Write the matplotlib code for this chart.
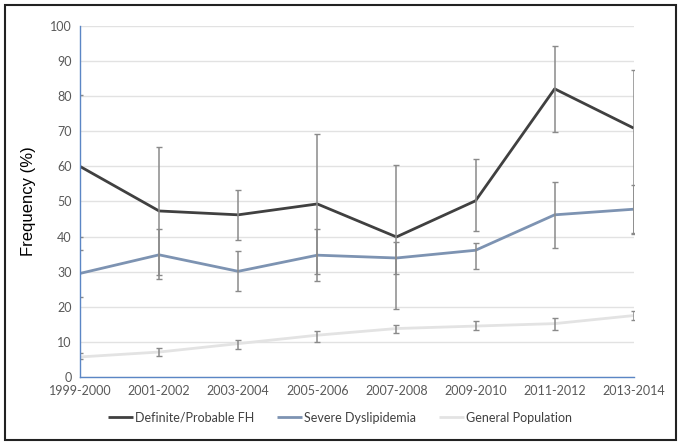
import matplotlib.pyplot as plt
from matplotlib.patches import Rectangle
import numpy as np

periods = ['1999-2000', '2001-2002', '2003-2004', '2005-2006',
           '2007-2008', '2009-2010', '2011-2012', '2013-2014']

fh = [60.0, 47.3, 46.2, 49.3, 39.9, 50.2, 82.1, 70.9]
fh_lo = [40.0, 29.0, 39.1, 29.4, 19.5, 41.5, 69.7, 40.8]
fh_hi = [80.3, 65.6, 53.3, 69.1, 60.3, 62.1, 94.4, 87.5]

sd = [29.5, 34.8, 30.1, 34.7, 33.9, 36.1, 46.2, 47.8]
sd_lo = [22.9, 27.8, 24.5, 27.3, 29.2, 30.9, 36.8, 41.0]
sd_hi = [36.2, 42.3, 35.9, 42.3, 38.5, 38.3, 55.6, 54.7]

gp = [5.7, 7.1, 9.5, 11.9, 13.8, 14.5, 15.2, 17.5]
gp_lo = [5.0, 5.9, 8.1, 10.1, 12.6, 13.5, 13.5, 16.3]
gp_hi = [6.7, 8.3, 10.4, 13.2, 14.9, 15.9, 16.9, 18.8]

series = [
    ('Definite/Probable FH', fh, fh_lo, fh_hi, '#404040'),
    ('Severe Dyslipidemia', sd, sd_lo, sd_hi, '#7d93b2'),
    ('General Population', gp, gp_lo, gp_hi, '#e3e3e3'),
]

fig = plt.figure(figsize=(6.8, 4.44), dpi=100)
ax = fig.add_axes([0.1176, 0.151, 0.8144, 0.7904])

x = np.arange(len(periods))
handles = []
for name, vals, lo, hi, col in series:
    vals = np.array(vals)
    err = [vals - np.array(lo), np.array(hi) - vals]
    h, = ax.plot(x, vals, color=col, lw=2.0, label=name, zorder=3,
                 solid_capstyle='butt')
    ax.errorbar(x, vals, yerr=err, fmt='none', ecolor='#8a8a8a',
                elinewidth=1.1, capsize=2, capthick=1.0, zorder=4)
    handles.append(h)

ax.set_xlim(0, len(periods) - 1)
ax.set_ylim(0, 100)
ax.set_yticks(range(0, 101, 10))
ax.set_xticks(x)
ax.set_xticklabels(periods)
ax.grid(axis='y', color='#e2e2e2', lw=1.0)
ax.set_axisbelow(True)
ax.tick_params(length=0, labelsize=9, labelcolor='#595959', pad=6)
for lab in ax.get_xticklabels() + ax.get_yticklabels():
    lab.set_family('Lato')
for s in ['top', 'right']:
    ax.spines[s].set_visible(False)
for s in ['left', 'bottom']:
    ax.spines[s].set_color('#5b86c5')
    ax.spines[s].set_linewidth(1.0)
    ax.spines[s].set_zorder(5)

ax.set_ylabel('Frequency (%)', fontsize=12, family='Liberation Sans', labelpad=10)

fig.legend(handles=handles, loc='center', bbox_to_anchor=(0.5, 0.059),
           ncol=3, frameon=False, handlelength=2.0, handletextpad=0.2,
           columnspacing=1.8, prop={'family': 'Lato', 'size': 9},
           labelcolor='#404040')

fig.patches.append(Rectangle((0.007, 0.01), 0.987, 0.978, transform=fig.transFigure,
                             fill=False, edgecolor='#222222', lw=1.5))

fig.savefig('out.png', dpi=100)
